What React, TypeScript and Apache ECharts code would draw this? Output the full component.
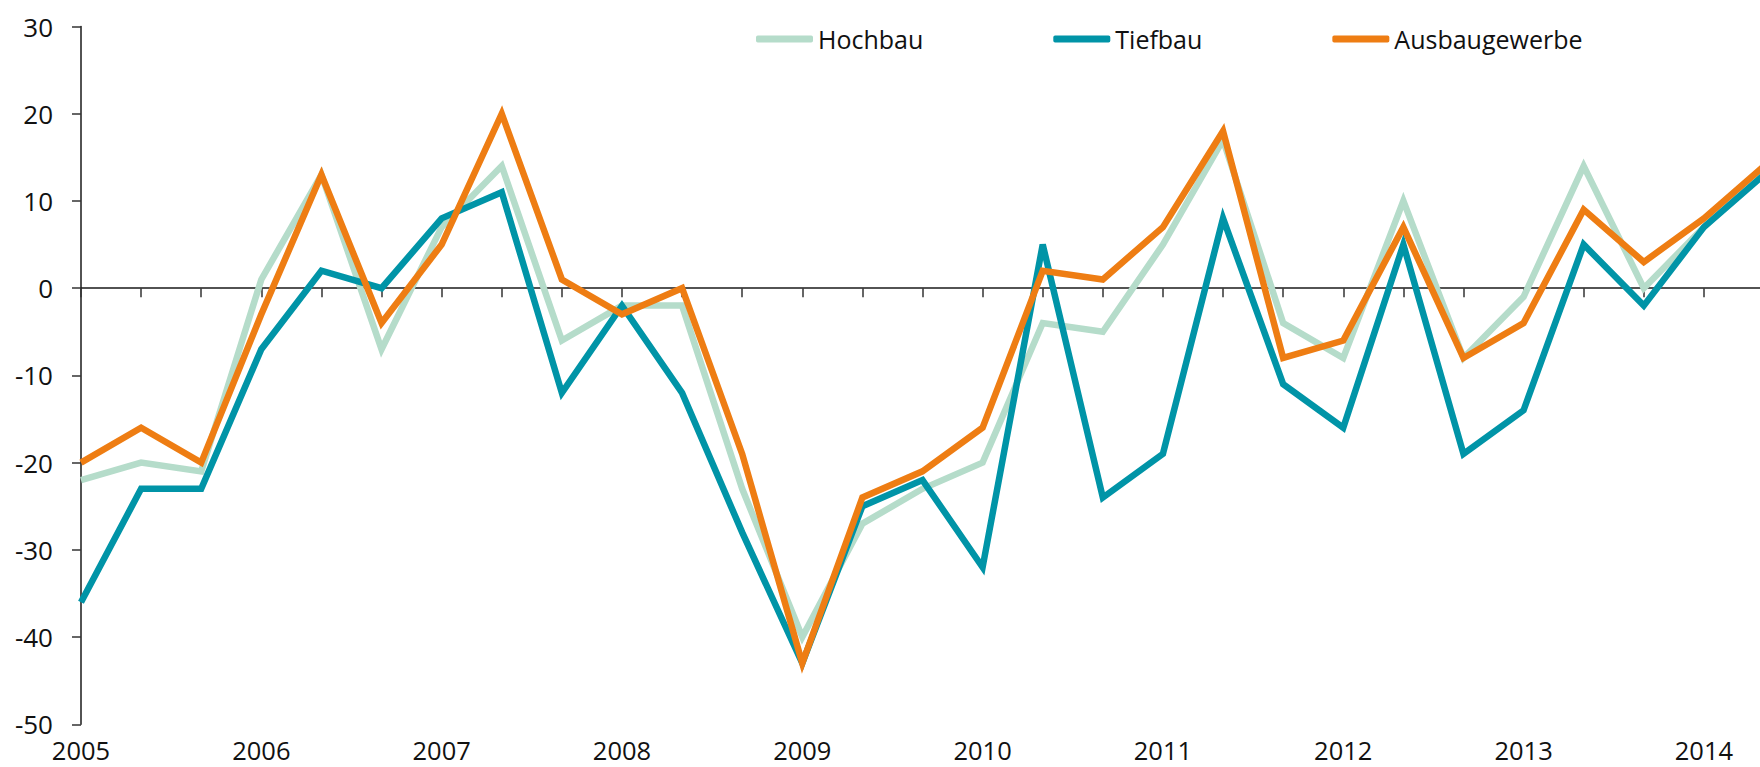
import React, { useEffect, useRef } from "react";
import * as echarts from "echarts";

const years = ["2005", "2006", "2007", "2008", "2009", "2010", "2011", "2012", "2013", "2014"];
const periods = ["T1", "T2", "T3"];
const categories: string[] = [];
years.forEach((y) => periods.forEach((p) => categories.push(`${y} ${p}`)));
categories.length = 29;

const hochbau = [-22, -20, -21, 1, 13, -7, 7, 14, -6, -2, -2, -23, -40, -27, -23, -20, -4, -5, 5, 17, -4, -8, 10, -8, -1, 14, 0, 7, 13.5];
const tiefbau = [-36, -23, -23, -7, 2, 0, 8, 11, -12, -2, -12, -28, -43, -25, -22, -32, 5, -24, -19, 8, -11, -16, 5, -19, -14, 5, -2, 7, 13];
const ausbau = [-20, -16, -20, -3, 13, -4, 5, 20, 1, -3, 0, -19, -43, -24, -21, -16, 2, 1, 7, 18, -8, -6, 7, -8, -4, 9, 3, 8, 14];

const seriesNames = ["Hochbau", "Tiefbau", "Ausbaugewerbe"];
const seriesColors = ["#b5dcca", "#0094a7", "#ee7d13"];
const seriesData = [hochbau, tiefbau, ausbau];

const FONT = "'Open Sans', 'Noto Sans', sans-serif";

export default function App() {
  const ref = useRef<HTMLDivElement>(null);
  useEffect(() => {
    if (!ref.current) return;
    const chart = echarts.init(ref.current, undefined, { renderer: "svg" });
    chart.setOption({
      animation: false,
      backgroundColor: "#ffffff",
      textStyle: { fontFamily: FONT },
      legend: {
        left: 751,
        top: 19,
        itemWidth: 57,
        itemHeight: 7,
        itemGap: 130,
        icon: "roundRect",
        textStyle: { fontFamily: FONT, fontSize: 25, color: "#111", lineHeight: 30 },
        data: seriesNames,
      },
      grid: {
        left: 81,
        right: -4,
        top: 26.5,
        bottom: 42.7,
        containLabel: false,
        outerBoundsMode: "none",
      },
      xAxis: [
        {
          type: "category",
          data: categories,
          boundaryGap: false,
          position: "bottom",
          axisLine: { show: false, onZero: false },
          axisTick: { show: false },
          splitLine: { show: false },
          axisLabel: {
            interval: 2,
            margin: 13,
            fontFamily: FONT,
            fontSize: 25.5,
            lineHeight: 25,
            color: "#111",
            formatter: (v: string) => v.slice(0, 4),
          },
        },
        {
          type: "category",
          data: categories,
          boundaryGap: false,
          position: "bottom",
          axisLine: { show: true, onZero: true, onZeroAxisIndex: 0, lineStyle: { color: "#1a1a1a", width: 1.5 } },
          axisTick: { show: true, interval: 0, length: 9, lineStyle: { color: "#333", width: 1.5 } },
          axisLabel: { show: false },
          splitLine: { show: false },
        },
      ],
      yAxis: {
        type: "value",
        min: -50,
        max: 30,
        interval: 10,
        axisLine: { show: true, onZero: false, lineStyle: { color: "#1a1a1a", width: 1.5 } },
        axisTick: { show: true, length: 9, lineStyle: { color: "#333", width: 1.5 } },
        splitLine: { show: false },
        axisLabel: {
          margin: 28,
          fontFamily: FONT,
          fontSize: 26,
          color: "#111",
        },
      },
      series: seriesNames.map((name, i) => ({
        name,
        type: "line",
        xAxisIndex: 0,
        data: seriesData[i],
        symbol: "none",
        color: seriesColors[i],
        itemStyle: { color: seriesColors[i] },
        lineStyle: { color: seriesColors[i], width: 6.5, join: "miter", cap: "butt" },
        z: 2 + i,
      })),
    });
    return () => chart.dispose();
  }, []);
  return (
    <div
      ref={ref}
      style={{ position: "fixed", left: 0, top: 0, width: 1760, height: 767, background: "#fff" }}
    />
  );
}
